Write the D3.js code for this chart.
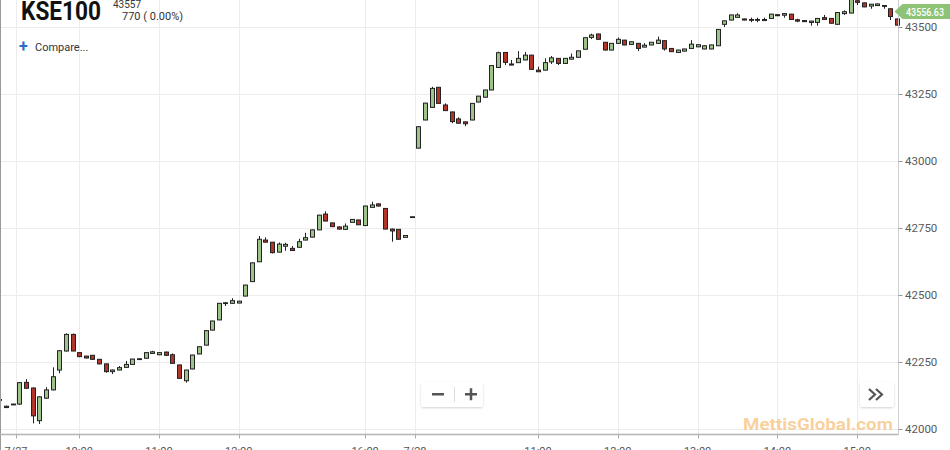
<!DOCTYPE html>
<html><head><meta charset="utf-8">
<script src="https://cdn.jsdelivr.net/npm/d3@7/dist/d3.min.js"></script>
<style>
html,body{margin:0;padding:0;background:#fff;overflow:hidden}
text{font-family:Roboto,"Liberation Sans",Arial,sans-serif}
</style></head>
<body>
<svg id="chart" width="950" height="450"></svg>
<script>
// ---- data (5-minute candles, KSE100) ----
const opens = [42110,42085,42093,42093,42174,42153,42031,42115,42146,42220,42291,42353,42285,42272,42275,42260,42243,42214,42220,42230,42241,42260,42264,42282,42277,42287,42277,42239,42180,42224,42280,42313,42369,42407,42468,42469,42470,42496,42550,42624,42705,42697,42660,42682,42674,42678,42705,42716,42743,42802,42769,42754,42745,42771,42780,42759,42827,42840,42823,42746,42745,42715,42792,
43048,43153,43200,43275,43209,43183,43157,43146,43153,43220,43238,43265,43349,43405,43362,43367,43377,43395,43339,43339,43370,43383,43364,43380,43387,43417,43461,43474,43443,43414,43439,43451,43435,43439,43425,43433,43439,43449,43420,43405,43410,43420,43426,43418,43418,43430,43510,43526,43536,43530,43528,43528,43524,43532,43546,43544,43548,43527,43524,43517,43517,43535,43532,43510,43550,43552,43598,43590,43578,43580,43580,43568,43530];
const highs = [42110,42087,42094,42175,42186,42155,42122,42156,42230,42294,42357,42356,42287,42273,42276,42261,42244,42222,42235,42254,42262,42264,42286,42292,42286,42289,42282,42240,42221,42277,42308,42368,42404,42470,42472,42488,42478,42538,42621,42720,42715,42698,42696,42695,42683,42710,42732,42744,42799,42812,42770,42756,42767,42783,42781,42833,42848,42842,42824,42748,42746,42723,42792,
43129,43217,43277,43276,43215,43184,43163,43148,43216,43243,43266,43357,43408,43406,43377,43410,43407,43396,43352,43383,43392,43384,43384,43401,43412,43461,43475,43475,43444,43440,43461,43452,43446,43440,43440,43444,43464,43450,43421,43415,43419,43451,43435,43431,43434,43492,43524,43546,43551,43531,43535,43535,43535,43549,43547,43551,43549,43531,43525,43523,43533,43545,43533,43555,43562,43610,43600,43591,43586,43588,43582,43569,43531];
const lows = [42106,42078,42092,42090,42150,42021,42019,42113,42144,42208,42289,42290,42268,42263,42258,42241,42210,42205,42219,42229,42240,42258,42263,42280,42276,42272,42244,42188,42173,42223,42279,42312,42368,42406,42459,42468,42469,42495,42549,42623,42696,42655,42659,42665,42665,42677,42704,42715,42742,42775,42754,42744,42744,42770,42761,42758,42826,42830,42745,42699,42707,42714,42792,
43047,43152,43199,43214,43187,43141,43140,43130,43152,43219,43237,43264,43348,43358,43357,43366,43376,43341,43332,43338,43362,43358,43363,43379,43386,43416,43455,43453,43413,43413,43438,43432,43434,43410,43424,43432,43438,43412,43407,43404,43409,43419,43425,43417,43417,43429,43500,43525,43535,43525,43518,43518,43523,43531,43541,43535,43527,43518,43519,43505,43505,43527,43513,43509,43545,43551,43582,43574,43568,43579,43568,43526,43506];
const closes = [42108,42080,42093,42173,42152,42049,42120,42146,42195,42292,42353,42291,42270,42265,42260,42243,42214,42220,42229,42241,42261,42262,42285,42288,42285,42275,42245,42189,42220,42276,42307,42367,42403,42469,42471,42479,42477,42537,42620,42708,42697,42658,42690,42689,42666,42699,42714,42743,42798,42776,42755,42746,42757,42782,42762,42832,42836,42832,42746,42739,42708,42722,42792,
43128,43216,43271,43215,43188,43147,43141,43139,43215,43242,43265,43356,43404,43368,43358,43383,43395,43342,43333,43367,43385,43364,43383,43387,43411,43460,43470,43454,43414,43439,43454,43433,43445,43420,43432,43443,43451,43418,43408,43414,43418,43436,43434,43430,43433,43491,43523,43545,43545,43526,43525,43526,43528,43548,43542,43550,43528,43522,43520,43522,43532,43528,43514,43554,43557,43605,43592,43575,43585,43586,43577,43539,43507];

const yTicks = [42000, 42250, 42500, 42750, 43000, 43250, 43500];
const xTickLabels = ["7/27", "10:00", "11:00", "12:00", "16:00", "7/28", "11:00", "12:00", "13:00", "14:00", "15:00"];
const xTickIndex = [2.5, 12, 24, 36, 55, 62.5, 81, 93, 105, 117, 129];
const symbol = "KSE100";
const lastPrice = "43557";
const changeText = "770 ( 0.00%)";
const badgeText = "43556.63";

// ---- chart ----
const svg = d3.select("#chart");
const W = 950, H = 450;
const plotRight = 898.5, plotBottom = 434.5;

const x = d3.scaleLinear().domain([0, opens.length - 1]).range([-0.65, -0.65 + 6.65 * (opens.length - 1)]);
const y = d3.scaleLinear().domain([42000, 43500]).range([429, 27]);

svg.append("rect").attr("width", W).attr("height", H).attr("fill", "#fff");

const defs = svg.append("defs");
defs.append("clipPath").attr("id", "clip").append("rect")
  .attr("x", 1).attr("y", 0).attr("width", 900).attr("height", plotBottom);
const sh = defs.append("filter").attr("id", "shadow").attr("x", "-20%").attr("y", "-20%").attr("width", "140%").attr("height", "160%");
sh.append("feDropShadow").attr("dx", 0).attr("dy", 1).attr("stdDeviation", 1.2).attr("flood-color", "#000").attr("flood-opacity", 0.18);

// grid
const grid = svg.append("g");
grid.selectAll("line.h").data(yTicks).join("line")
  .attr("x1", 0).attr("x2", plotRight)
  .attr("y1", d => Math.round(y(d)) + 0.5).attr("y2", d => Math.round(y(d)) + 0.5)
  .attr("stroke", "#ececec");
grid.selectAll("line.v").data(xTickIndex).join("line")
  .attr("x1", d => Math.round(x(d)) + 0.5).attr("x2", d => Math.round(x(d)) + 0.5)
  .attr("y1", 0).attr("y2", plotBottom)
  .attr("stroke", "#ececec");

// watermark
svg.append("text").attr("x", 743).attr("y", 430).attr("font-size", 17).attr("font-weight", 700)
  .attr("fill", "#f7c27c").attr("fill-opacity", 0.75)
  .attr("textLength", 150).attr("lengthAdjust", "spacingAndGlyphs")
  .attr("font-family", "Roboto, sans-serif")
  .text("MettisGlobal.com");

// candles
const idx = d3.range(opens.length);
const cg = svg.append("g").attr("clip-path", "url(#clip)");
const up = i => closes[i] >= opens[i];
cg.selectAll("line.wick").data(idx).join("line")
  .attr("x1", i => Math.round(x(i)) + 0.5).attr("x2", i => Math.round(x(i)) + 0.5)
  .attr("y1", i => y(highs[i])).attr("y2", i => y(lows[i]))
  .attr("stroke", "#222").attr("stroke-width", 1);
cg.selectAll("rect.body").data(idx).join("rect")
  .attr("x", i => Math.round(x(i)) - 1.5)
  .attr("width", 4)
  .attr("y", i => Math.min(y(opens[i]), y(closes[i])))
  .attr("height", i => Math.max(0.8, Math.abs(y(opens[i]) - y(closes[i]))))
  .attr("fill", i => up(i) ? "#9dc38b" : "#b3352a")
  .attr("stroke", "#222").attr("stroke-width", 1);

// borders
svg.append("line").attr("x1", 0.5).attr("x2", 0.5).attr("y1", 0).attr("y2", H).attr("stroke", "#9a9a9a");
svg.append("line").attr("x1", 0).attr("x2", plotRight).attr("y1", plotBottom).attr("y2", plotBottom).attr("stroke", "#b5b5b5").attr("stroke-width", 1.5);
svg.append("line").attr("x1", plotRight).attr("x2", plotRight).attr("y1", 0).attr("y2", plotBottom).attr("stroke", "#cfcfcf");

// x axis (labels are partially cut by the bottom edge, as in the reference)
const xa = svg.append("g");
xa.selectAll("line").data(xTickIndex).join("line")
  .attr("x1", d => Math.round(x(d)) + 0.5).attr("x2", d => Math.round(x(d)) + 0.5)
  .attr("y1", plotBottom).attr("y2", plotBottom + 4).attr("stroke", "#aaa");
xa.selectAll("text").data(xTickLabels).join("text")
  .attr("x", (d, i) => x(xTickIndex[i])).attr("y", 455)
  .attr("text-anchor", "middle").attr("font-size", 11).attr("fill", "#555")
  .text(d => d);

// y axis
const ya = svg.append("g");
ya.selectAll("line").data(yTicks).join("line")
  .attr("x1", plotRight).attr("x2", plotRight + 4)
  .attr("y1", d => Math.round(y(d)) + 0.5).attr("y2", d => Math.round(y(d)) + 0.5)
  .attr("stroke", "#999");
ya.selectAll("text").data(yTicks).join("text")
  .attr("x", 905).attr("y", d => y(d) + 4)
  .attr("font-size", 11.5).attr("fill", "#5a5a5a")
  .text(d => d);

// price badge
const by = 11.5;
svg.append("path")
  .attr("d", `M${plotRight - 4},${by} L${plotRight + 4},${by - 7.5} L${W + 5},${by - 7.5} L${W + 5},${by + 7.5} L${plotRight + 4},${by + 7.5} Z`)
  .attr("fill", "#8dc377");
svg.append("text").attr("x", 906).attr("y", by + 4).attr("font-size", 10.5).attr("font-weight", 500).attr("fill", "#fff")
  .attr("textLength", 38).attr("lengthAdjust", "spacingAndGlyphs")
  .text(badgeText);

// title
svg.append("text").attr("x", 21).attr("y", 20).attr("font-size", 25).attr("font-weight", 700)
  .attr("fill", "#111").attr("textLength", 80).attr("lengthAdjust", "spacingAndGlyphs")
  .text(symbol);
svg.append("text").attr("x", 113).attr("y", 8).attr("font-size", 10).attr("fill", "#333").text(lastPrice);
svg.append("text").attr("x", 122).attr("y", 20).attr("font-size", 11).attr("fill", "#333").text(changeText);

// compare
svg.append("text").attr("x", 19).attr("y", 52).attr("font-size", 16).attr("font-weight", 700).attr("fill", "#2b6cc0").text("+");
svg.append("text").attr("x", 35).attr("y", 51).attr("font-size", 11).attr("fill", "#333").text("Compare...");

// zoom controls
const zc = svg.append("g");
zc.append("rect").attr("x", 421).attr("y", 382).attr("width", 62).attr("height", 25).attr("rx", 3)
  .attr("fill", "#fff").attr("filter", "url(#shadow)");
zc.append("line").attr("x1", 454.5).attr("x2", 454.5).attr("y1", 387).attr("y2", 402).attr("stroke", "#ddd");
zc.append("rect").attr("x", 432).attr("y", 393).attr("width", 12).attr("height", 2.5).attr("fill", "#555");
zc.append("rect").attr("x", 465).attr("y", 393).attr("width", 12).attr("height", 2.5).attr("fill", "#555");
zc.append("rect").attr("x", 469.75).attr("y", 388.25).attr("width", 2.5).attr("height", 12).attr("fill", "#555");
zc.append("rect").attr("x", 860).attr("y", 382).attr("width", 34).attr("height", 25).attr("rx", 3)
  .attr("fill", "#fff").attr("filter", "url(#shadow)");
zc.append("path").attr("d", "M869,389 L875,394.5 L869,400 M876,389 L882,394.5 L876,400")
  .attr("fill", "none").attr("stroke", "#555").attr("stroke-width", 2.2);
</script>
</body></html>
